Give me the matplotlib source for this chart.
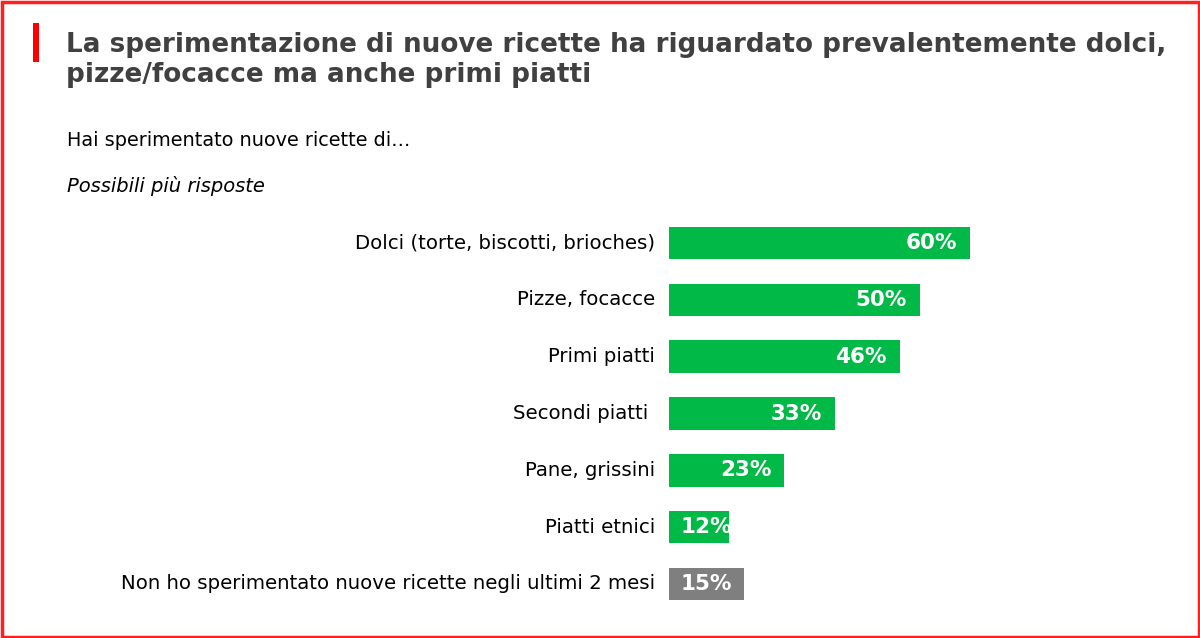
import matplotlib.pyplot as plt
from matplotlib.patches import Rectangle

# data
categories = [
    "Dolci (torte, biscotti, brioches)",
    "Pizze, focacce",
    "Primi piatti",
    "Secondi piatti ",
    "Pane, grissini",
    "Piatti etnici",
    "Non ho sperimentato nuove ricette negli ultimi 2 mesi",
]
values = [60, 50, 46, 33, 23, 12, 15]
bar_colors = ["#00B946"] * 6 + ["#7F7F7F"]

title = ("La sperimentazione di nuove ricette ha riguardato prevalentemente dolci,\n"
         "pizze/focacce ma anche primi piatti")
question = "Hai sperimentato nuove ricette di\u2026"
note = "Possibili più risposte"

W, H = 1200, 638
fig = plt.figure(figsize=(W / 100, H / 100), dpi=100)
fig.patch.set_facecolor("white")

# red frame and red marker next to the title
fig.patches.append(Rectangle((1.5 / W, 1.5 / H), 1 - 3 / W, 1 - 3 / H,
                             transform=fig.transFigure, fill=False,
                             edgecolor="#FF2020", linewidth=2.5))
fig.patches.append(Rectangle((33 / W, 1 - 62 / H), 6 / W, 39 / H,
                             transform=fig.transFigure, facecolor="#FF0000",
                             edgecolor="none"))

fig.text(66 / W, 1 - 60 / H, title, fontsize=18.9, fontweight="bold",
         color="#404040", va="center", ha="left", linespacing=1.25)
fig.text(67 / W, 1 - 140 / H, question, fontsize=13.9, color="black",
         va="center", ha="left")
fig.text(67 / W, 1 - 186 / H, note, fontsize=14, color="black",
         style="italic", va="center", ha="left")

# axes in pixel space: left edge of bars at x=669, 5.02 px per %
ax = fig.add_axes([669 / W, 1 - 612.4 / H, 502 / W, (612.4 - 214.6) / H])
ax.set_xlim(0, 100)
ax.set_ylim(len(values) - 0.5, -0.5)
ax.axis("off")

ypos = list(range(len(values)))
bars = ax.barh(ypos, values, height=0.57, color=bar_colors)

for y, v, cat, bar in zip(ypos, values, categories, bars):
    ax.text(-2.8, y, cat, ha="right", va="center", fontsize=14.2,
            color="black")
    label = f"{v}%"
    if bar_colors[y] == "#7F7F7F":
        t = ax.text(v / 2, y, label, ha="center", va="center",
                    fontsize=15.5, fontweight="bold", color="white")
    elif v > 15:
        t = ax.text(v - 2.6, y, label, ha="right", va="center",
                    fontsize=15.5, fontweight="bold", color="white")
    else:
        # short bar: label starts inside and gets cut at the bar end
        t = ax.text(2.4, y, label, ha="left", va="center",
                    fontsize=15.5, fontweight="bold", color="white")
    t.set_clip_path(bar)

fig.savefig("out.png", dpi=100)
